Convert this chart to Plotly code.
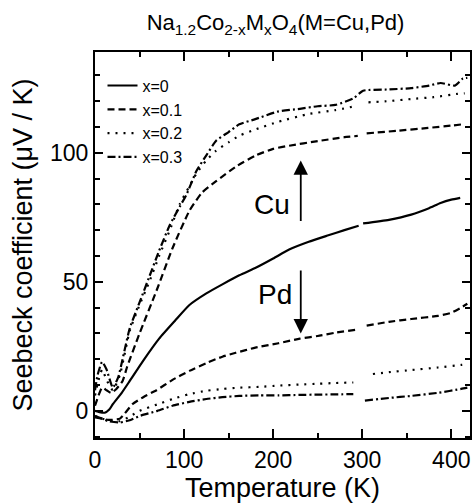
import plotly.graph_objects as go

# Seebeck coefficient S(T) for Na1.2Co2-xMxO4, M = Cu (upper group) and Pd (lower group)
# None marks the break between the low- and high-temperature runs
T_x0 = [0, 5, 11, 16, 20, 30, 39, 54, 72, 90, 106, 125, 143, 162, 181, 200, 218, 240, 262, 280, 296,
        None, 301, 330, 355, 375, 388, 400, 410]
S_x0 = [0, -0.5, -0.7, 0.5, 2.6, 7, 11.6, 19.4, 28, 35, 41, 45.5, 49, 52.5, 55.5, 59, 62.5, 65.5, 68, 70, 71.7,
        None, 72.6, 74, 76, 78.5, 80.5, 81.8, 82.5]

T_cu1 = [0, 4, 8, 13, 18, 24, 31, 36, 50, 69, 87, 106, 120, 136, 160, 181, 200, 218, 250, 280, 295,
         None, 305, 340, 374, 400, 413]
S_cu1 = [2, 6, 9, 8, 7, 8.5, 11.6, 17, 30, 46.5, 63, 77.5, 84.5, 89, 95, 99, 101.5, 102.7, 104.5, 106, 106.5,
         None, 107.5, 108.5, 109.6, 110.5, 111]

T_cu2 = [0, 4, 8, 13, 20, 28, 39, 50, 61, 72, 84, 95, 106, 114, 125, 136, 150, 162, 180, 206, 240, 270, 292,
         None, 307, 330, 355, 380, 407, 415]
S_cu2 = [6, 12, 16, 12, 8, 14, 31, 41, 50, 60, 70, 80, 87, 92, 97, 100.8, 104, 106.6, 109, 112, 115, 116.5, 118,
         None, 119.5, 120, 120.8, 121.5, 122.8, 123]

T_cu3 = [0, 3, 8, 13, 20, 26, 39, 50, 61, 72, 84, 95, 103, 114, 125, 136, 150, 162, 180, 206, 230, 250, 270,
         290, 301, 330, 355, 375, 388, 404, 413, 418]
S_cu3 = [8, 14, 19, 16, 9, 13, 32, 42, 52, 62, 72, 79, 84, 93, 99, 104.6, 108, 111, 113, 116, 117, 118, 118.5,
         121, 124, 124.5, 125, 126, 127, 126, 128.7, 129]

T_pd1 = [0, 8, 15, 28, 42, 55, 69, 87, 106, 125, 143, 158, 180, 206, 230, 250, 270, 292,
         None, 305, 330, 355, 385, 400, 411, 418]
S_pd1 = [-2.5, -3, -3.5, -3, 2.6, 5.5, 8, 12, 15.5, 18.5, 21, 22.5, 24.5, 26.2, 28, 29, 30.3, 31.4,
         None, 33, 34.5, 35.6, 36.8, 38, 40, 41.5]

T_pd2 = [0, 8, 15, 28, 40, 50, 70, 87, 106, 125, 143, 162, 185, 206, 230, 250, 270, 290,
         None, 312, 330, 355, 385, 411, 418]
S_pd2 = [-2, -3, -3.5, -4, -2, 0, 2.5, 4.6, 6.5, 7.8, 8.5, 9, 9.3, 9.8, 10.2, 10.5, 10.8, 11,
         None, 14.3, 15, 15.8, 16.8, 17.8, 18]

T_pd3 = [0, 8, 15, 28, 40, 50, 70, 87, 106, 125, 143, 162, 185, 206, 230, 250, 270, 290,
         None, 303, 330, 355, 385, 411, 418]
S_pd3 = [-2, -3, -4, -4.5, -3.5, -2, 0, 2, 3.5, 4.6, 5.3, 5.8, 6, 6, 6.2, 6.3, 6.4, 6.5,
         None, 4, 5, 5.8, 7, 8.5, 9]

legend_names = ["x=0", "x=0.1", "x=0.2", "x=0.3"]
x_ticks = [0, 100, 200, 300, 400]
y_ticks = [0, 50, 100]

FONT = "Liberation Sans, Arial, sans-serif"
DASH = {
    "x=0": "solid",
    "x=0.1": "7px,4px",
    "x=0.2": "2px,6px",
    "x=0.3": "8px,3px,2px,3px",
}

fig = go.Figure()

series = [
    ("x=0", T_x0, S_x0, True),
    ("x=0.1", T_cu1, S_cu1, True),
    ("x=0.2", T_cu2, S_cu2, True),
    ("x=0.3", T_cu3, S_cu3, True),
    ("x=0.1", T_pd1, S_pd1, False),
    ("x=0.2", T_pd2, S_pd2, False),
    ("x=0.3", T_pd3, S_pd3, False),
]
for name, t, s, show in series:
    fig.add_trace(go.Scatter(
        x=t, y=s, mode="lines", name=name, legendgroup=name, showlegend=show,
        line=dict(color="black", width=2.2, dash=DASH[name], shape="spline", smoothing=0.5),
        connectgaps=False,
    ))

# Cu / Pd labels with arrows showing the direction of the change
fig.add_annotation(x=199, y=80, text="Cu", showarrow=False, font=dict(family=FONT, size=28, color="black"))
fig.add_annotation(x=202, y=45, text="Pd", showarrow=False, font=dict(family=FONT, size=28, color="black"))
fig.add_annotation(x=231, y=97, ax=231, ay=73, xref="x", yref="y", axref="x", ayref="y",
                   text="", showarrow=True, arrowhead=2, arrowsize=1.6, arrowwidth=1.8, arrowcolor="black")
fig.add_annotation(x=231, y=30, ax=231, ay=55, xref="x", yref="y", axref="x", ayref="y",
                   text="", showarrow=True, arrowhead=2, arrowsize=1.6, arrowwidth=1.8, arrowcolor="black")

axis_common = dict(
    showline=True, linecolor="black", linewidth=2, mirror="ticks",
    ticks="inside", tickcolor="black", tickwidth=2,
    showgrid=False, zeroline=False,
    tickfont=dict(family=FONT, size=23, color="black"),
)

fig.update_xaxes(
    range=[0, 421], tickvals=x_ticks, ticklen=9,
    minor=dict(dtick=50, tick0=0, ticklen=5, ticks="inside", tickcolor="black", tickwidth=2, showgrid=False),
    title=dict(text="Temperature (K)", font=dict(family=FONT, size=27, color="black"), standoff=2),
    **axis_common,
)
fig.update_yaxes(
    range=[-10.5, 139], tickvals=y_ticks, ticklen=8,
    minor=dict(dtick=10, tick0=0, ticklen=5, ticks="inside", tickcolor="black", tickwidth=2, showgrid=False),
    title=dict(text="Seebeck coefficient (\u03bcV / K)", font=dict(family=FONT, size=27, color="black"), standoff=10),
    **axis_common,
)

fig.update_layout(
    width=475, height=503,
    margin=dict(l=95, r=3, t=52, b=65),
    paper_bgcolor="white", plot_bgcolor="white",
    title=dict(
        text="Na<sub>1.2</sub>Co<sub>2-x</sub>M<sub>x</sub>O<sub>4</sub>(M=Cu,Pd)",
        x=0.58, xanchor="center", y=0.955, yanchor="middle",
        font=dict(family=FONT, size=22, color="black"),
    ),
    legend=dict(
        x=0.02, y=0.957, xanchor="left", yanchor="top",
        bgcolor="rgba(0,0,0,0)", borderwidth=0,
        font=dict(family=FONT, size=16, color="black"),
        tracegroupgap=0, itemwidth=30,
    ),
    showlegend=True,
)

fig.write_html("out.html")
